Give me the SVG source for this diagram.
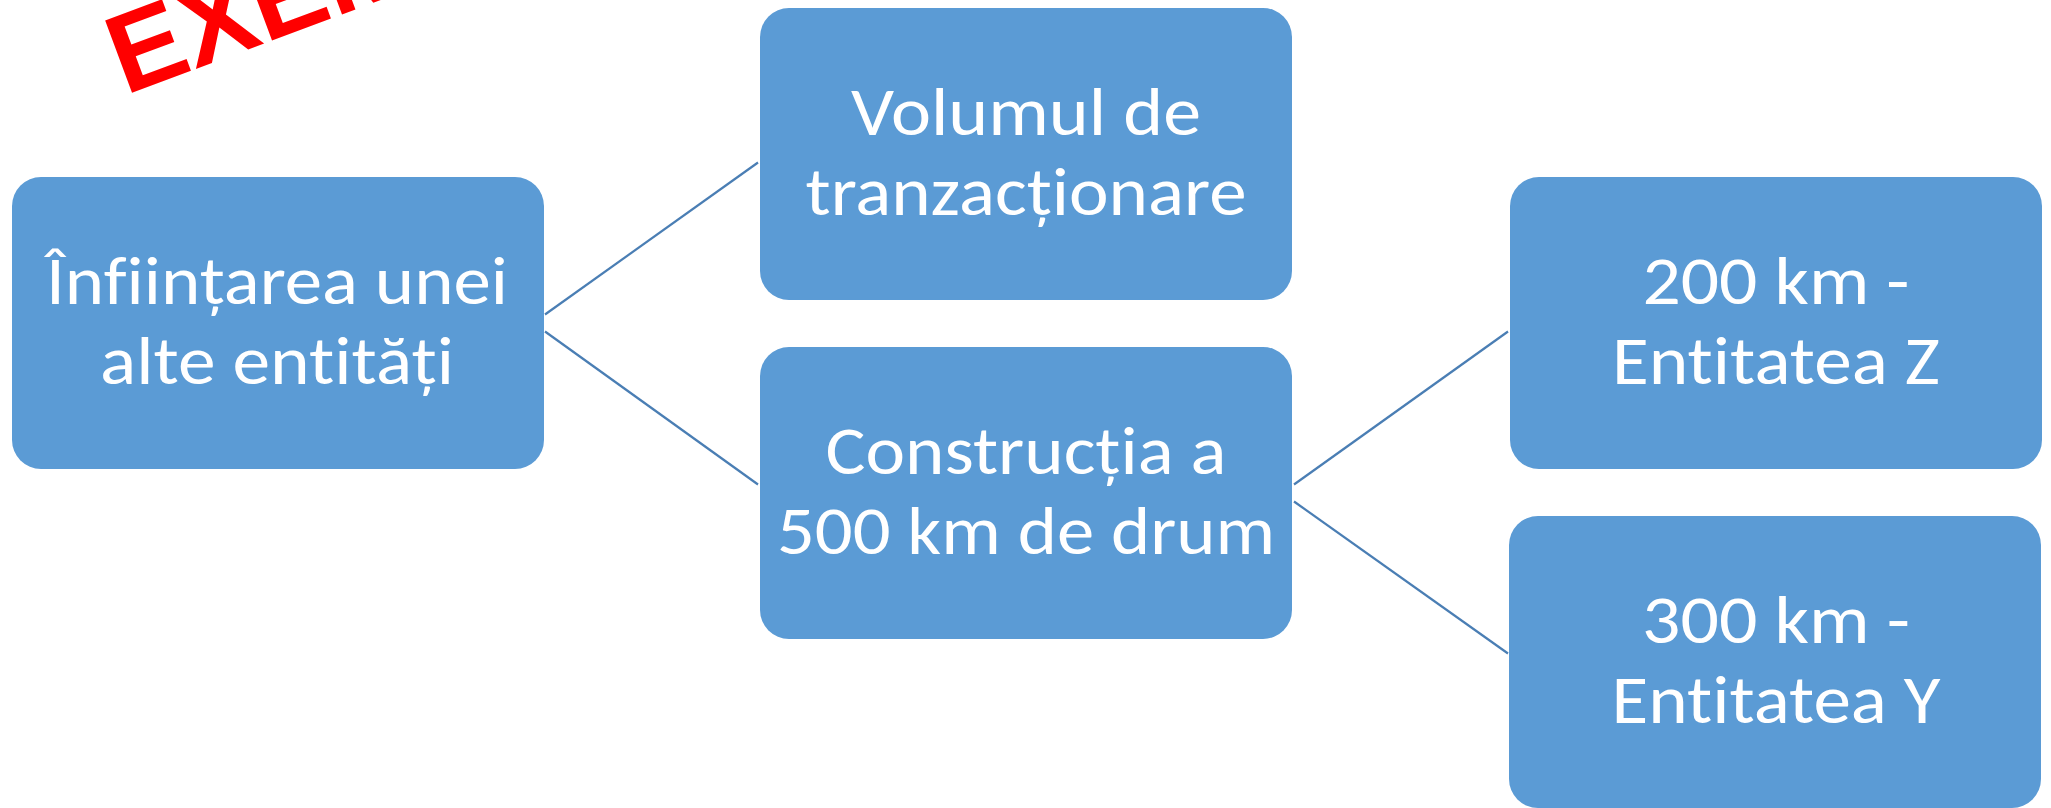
<svg xmlns="http://www.w3.org/2000/svg" width="2051" height="808" viewBox="0 0 2051 808">
  <style>
    .box { fill: #5B9BD5; }
    .lbl { fill: #FFFFFF; font-family: Carlito, Lato, "Open Sans", sans-serif; font-size: 68px; text-anchor: middle; font-variant-ligatures: none; font-feature-settings: "liga" 0, "clig" 0, "dlig" 0; }
    .conn { stroke: #4A7EB4; stroke-width: 2.2; fill: none; }
    .wm { fill: #FF0000; font-family: "Liberation Sans", Arial, sans-serif; font-weight: bold; font-size: 112px; }
  </style>
  <rect x="0" y="0" width="2051" height="808" fill="#FFFFFF"/>
  <g id="connectors">
    <line class="conn" x1="545" y1="314.5" x2="758" y2="162.5"/>
    <line class="conn" x1="545" y1="331.5" x2="758" y2="484.5"/>
    <line class="conn" x1="1294" y1="484.5" x2="1508" y2="331.5"/>
    <line class="conn" x1="1294" y1="501.5" x2="1508" y2="653.5"/>
  </g>
  <g id="node-infiintarea">
    <rect class="box" x="12" y="177" width="532" height="292" rx="29" ry="29"/>
    <text class="lbl" x="277" y="303.7" textLength="462" lengthAdjust="spacingAndGlyphs">Înființarea unei</text>
    <text class="lbl" x="277" y="384" textLength="354" lengthAdjust="spacingAndGlyphs">alte entități</text>
  </g>
  <g id="node-volumul">
    <rect class="box" x="760" y="8" width="532" height="292" rx="29" ry="29"/>
    <text class="lbl" x="1026" y="134.7" textLength="350" lengthAdjust="spacingAndGlyphs">Volumul de</text>
    <text class="lbl" x="1026" y="215" textLength="441" lengthAdjust="spacingAndGlyphs">tranzacționare</text>
  </g>
  <g id="node-constructia">
    <rect class="box" x="760" y="347" width="532" height="292" rx="29" ry="29"/>
    <text class="lbl" x="1026" y="473.7" textLength="401" lengthAdjust="spacingAndGlyphs">Construcția a</text>
    <text class="lbl" x="1026" y="554" textLength="498" lengthAdjust="spacingAndGlyphs">500 km de drum</text>
  </g>
  <g id="node-entitatea-z">
    <rect class="box" x="1510" y="177" width="532" height="292" rx="29" ry="29"/>
    <text class="lbl" x="1776" y="303.7" textLength="267" lengthAdjust="spacingAndGlyphs">200 km -</text>
    <text class="lbl" x="1776" y="384" textLength="328" lengthAdjust="spacingAndGlyphs">Entitatea Z</text>
  </g>
  <g id="node-entitatea-y">
    <rect class="box" x="1509" y="516" width="532" height="292" rx="29" ry="29"/>
    <text class="lbl" x="1776" y="642.7" textLength="268" lengthAdjust="spacingAndGlyphs">300 km -</text>
    <text class="lbl" x="1776" y="723" textLength="329" lengthAdjust="spacingAndGlyphs">Entitatea Y</text>
  </g>
  <g id="watermark">
    <text class="wm" x="125" y="95.2" transform="rotate(-20.4 125 95.2)">EXEMPLU</text>
  </g>
</svg>
